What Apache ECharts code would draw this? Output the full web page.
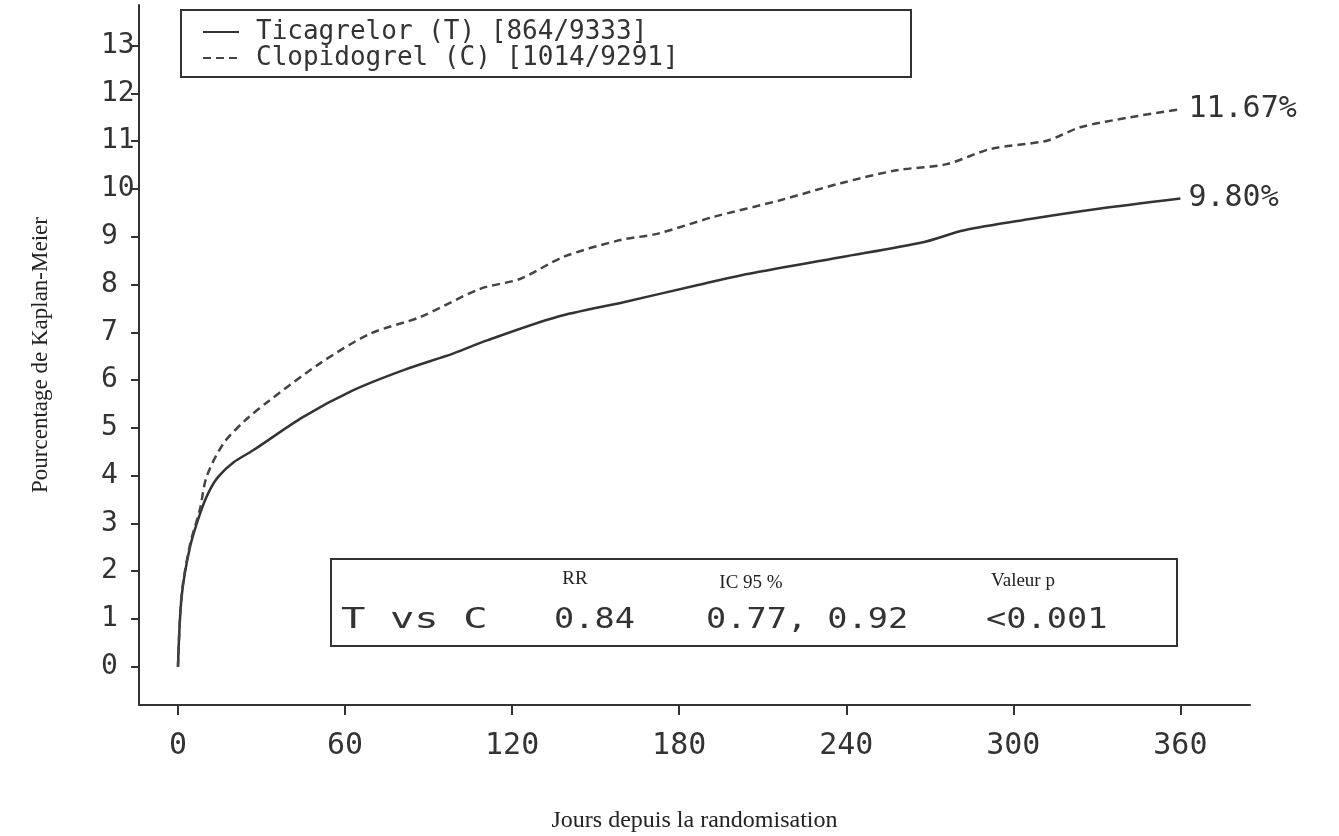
<!DOCTYPE html>
<html lang="fr">
<head>
    <meta charset="UTF-8">
    <title>Kaplan-Meier</title>
    <script src="https://cdn.jsdelivr.net/npm/echarts@6/dist/echarts.min.js"></script>
</head>
<body style="margin:0;background:#fff">
<div id="box1" style="width: 1339px;height: 836px"></div>
<script>
    // courbes (jours, %)
    var joursT = [0, 1.3, 4.3, 7.9, 11, 14.5, 20, 27, 45, 63, 81, 99, 111, 136, 160, 186, 202, 238, 268, 282, 306, 330, 360];
    var pctT = [0, 1.46, 2.5, 3.2, 3.65, 3.98, 4.28, 4.53, 5.23, 5.79, 6.21, 6.56, 6.83, 7.32, 7.63, 7.98, 8.19, 8.57, 8.89, 9.13, 9.37, 9.58, 9.80];
    var joursC = [0, 1.3, 4.3, 7.9, 10.3, 16.3, 24, 33, 51, 69, 87, 108.5, 123, 138.5, 158.8, 172, 192, 216, 238, 258, 276, 292, 312, 324, 342, 360];
    var pctC = [0, 1.5, 2.55, 3.3, 3.98, 4.67, 5.15, 5.58, 6.35, 6.97, 7.32, 7.91, 8.12, 8.58, 8.93, 9.06, 9.41, 9.76, 10.12, 10.39, 10.52, 10.84, 11.01, 11.29, 11.5, 11.67];
    var nomT = 'Ticagrelor (T) [864/9333]';
    var nomC = 'Clopidogrel (C) [1014/9291]';
    var finT = '9.80%';
    var finC = '11.67%';
    var xTicks = [0, 60, 120, 180, 240, 300, 360];
    var yTicks = [0, 1, 2, 3, 4, 5, 6, 7, 8, 9, 10, 11, 12, 13];
    var enTetes = ['RR', 'IC 95 %', 'Valeur p'];
    var ligne = ['T vs C', '0.84', '0.77, 0.92', '<0.001'];

    function paires(xs, ys) {
        var out = [];
        for (var i = 0; i < xs.length; i++) out.push([xs[i], ys[i]]);
        return out;
    }

    var mono = '"DejaVu Sans Mono", monospace';
    var serif = '"Liberation Serif", "DejaVu Serif", serif';
    var ink = '#333';

    var chart = echarts.init(document.getElementById('box1'));
    var option = {
        animation: false,
        backgroundColor: '#fff',
        grid: {left: 139, right: 89, top: 5, bottom: 131, outerBoundsMode: 'none'},
        legend: {
            left: 181,
            top: 10,
            orient: 'vertical',
            data: [nomT, nomC],
            borderColor: ink,
            borderWidth: 2,
            padding: [9, 25, 6, 21],
            itemWidth: 36,
            itemHeight: 14,
            itemGap: 0,
            itemStyle: {opacity: 0},
            textStyle: {
                fontFamily: mono, fontSize: 26, color: ink,
                lineHeight: 24, width: 630, padding: [0, 0, 0, 12]
            }
        },
        xAxis: {
            type: 'value',
            min: -14,
            max: 385,
            name: 'Jours depuis la randomisation',
            nameLocation: 'middle',
            nameGap: 104,
            nameTextStyle: {fontFamily: serif, fontSize: 24, color: '#222'},
            axisLine: {onZero: false, lineStyle: {color: ink, width: 2}},
            axisTick: {show: true, length: 10, customValues: xTicks, lineStyle: {color: ink, width: 2}},
            axisLabel: {customValues: xTicks, margin: 26, fontFamily: mono, fontSize: 30, color: ink},
            splitLine: {show: false}
        },
        yAxis: {
            type: 'value',
            min: -0.8,
            max: 13.85,
            name: 'Pourcentage de Kaplan-Meier',
            nameLocation: 'middle',
            nameGap: 87,
            nameTextStyle: {fontFamily: serif, fontSize: 23, color: '#222'},
            axisLine: {show: true, onZero: false, lineStyle: {color: ink, width: 2}},
            axisTick: {show: true, length: 8, customValues: yTicks, lineStyle: {color: ink, width: 2}},
            axisLabel: {customValues: yTicks, margin: 38, align: 'left', fontFamily: mono, fontSize: 28, color: ink},
            splitLine: {show: false}
        },
        series: [{
            name: nomT,
            type: 'line',
            data: paires(joursT, pctT),
            symbol: 'none',
            smooth: 0.3,
            lineStyle: {color: ink, width: 2.5, type: 'solid'},
            itemStyle: {color: ink},
            endLabel: {show: true, formatter: finT, distance: 8, fontFamily: mono, fontSize: 30, color: ink}
        }, {
            name: nomC,
            type: 'line',
            data: paires(joursC, pctC),
            symbol: 'none',
            smooth: 0.3,
            lineStyle: {color: '#444', width: 2.5, type: [8, 5]},
            itemStyle: {color: '#444'},
            endLabel: {show: true, formatter: finC, distance: 8, fontFamily: mono, fontSize: 30, color: ink}
        }],
        graphic: [{
            type: 'group',
            left: 330,
            top: 558,
            children: [{
                type: 'rect',
                shape: {x: 0, y: 0, width: 846, height: 87},
                style: {fill: '#fff', stroke: ink, lineWidth: 2}
            }, {
                type: 'text', x: 244, y: 20,
                style: {text: enTetes[0], font: '19px ' + serif, fill: '#222', align: 'center', verticalAlign: 'middle'}
            }, {
                type: 'text', x: 420, y: 24,
                style: {text: enTetes[1], font: '19px ' + serif, fill: '#222', align: 'center', verticalAlign: 'middle'}
            }, {
                type: 'text', x: 692, y: 22,
                style: {text: enTetes[2], font: '19px ' + serif, fill: '#222', align: 'center', verticalAlign: 'middle'}
            }, {
                type: 'text', x: 10, y: 62, scaleX: 1.45,
                style: {text: ligne[0], font: '28px ' + mono, fill: ink, align: 'left', verticalAlign: 'middle'}
            }, {
                type: 'text', x: 223, y: 62, scaleX: 1.2,
                style: {text: ligne[1], font: '28px ' + mono, fill: ink, align: 'left', verticalAlign: 'middle'}
            }, {
                type: 'text', x: 375, y: 62, scaleX: 1.2,
                style: {text: ligne[2], font: '28px ' + mono, fill: ink, align: 'left', verticalAlign: 'middle'}
            }, {
                type: 'text', x: 655, y: 62, scaleX: 1.2,
                style: {text: ligne[3], font: '28px ' + mono, fill: ink, align: 'left', verticalAlign: 'middle'}
            }]
        }]
    };
    chart.setOption(option);
</script>
</body>
</html>
